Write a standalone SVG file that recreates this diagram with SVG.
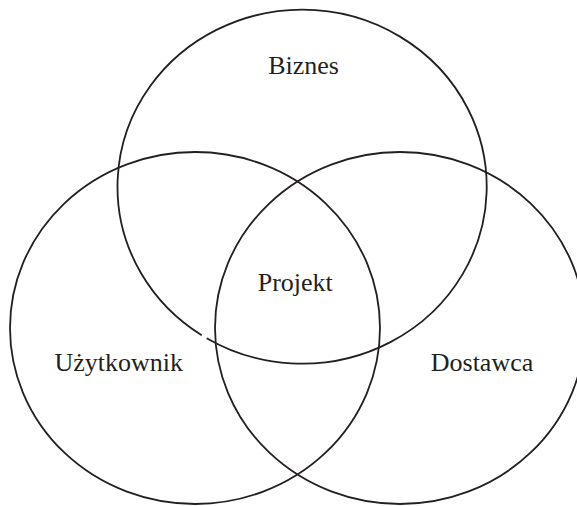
<svg xmlns="http://www.w3.org/2000/svg" width="577" height="506" viewBox="0 0 577 506">
<style>
.c{fill:none;stroke:#231f20;stroke-width:1.8}
.t{font-family:"Liberation Serif","Times New Roman",serif;font-size:26px;fill:#231f20;text-anchor:middle}
</style>
<rect width="577" height="506" fill="#fff"/>
<g id="biznes">
<path class="c" d="M206.7,338.2 A184.6,177 0 1 0 201.7,335.2"/>
<text class="t" x="303.6" y="74">Biznes</text>
</g>
<g id="uzytkownik">
<ellipse class="c" cx="195" cy="328" rx="185" ry="176"/>
<text class="t" x="118.7" y="370.7">Użytkownik</text>
</g>
<g id="dostawca">
<ellipse class="c" cx="400" cy="328" rx="185" ry="176"/>
<text class="t" x="482" y="370.7">Dostawca</text>
</g>
<g id="projekt">
<text class="t" x="295.3" y="290.7">Projekt</text>
</g>
</svg>
